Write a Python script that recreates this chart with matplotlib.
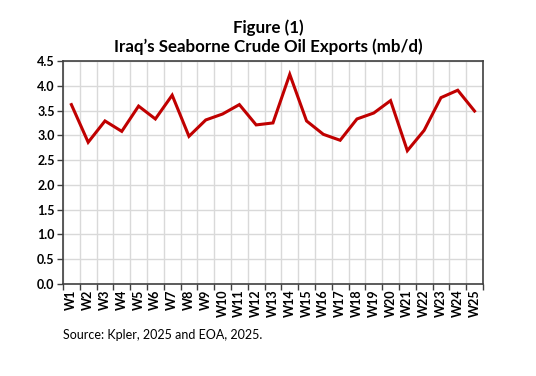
import matplotlib.pyplot as plt
import numpy as np

weeks = ["W%d" % i for i in range(1, 26)]
exports = [3.62, 2.86, 3.29, 3.08, 3.59, 3.33, 3.81, 2.98, 3.31, 3.43,
           3.62, 3.21, 3.25, 4.23, 3.29, 3.02, 2.90, 3.33, 3.45, 3.70,
           2.69, 3.10, 3.76, 3.91, 3.49]
yticks = np.arange(0, 4.51, 0.5)

plt.rcParams['font.family'] = ['Lato', 'DejaVu Sans']

fig = plt.figure(figsize=(5.36, 3.76), dpi=100)
ax = fig.add_axes([0.1175, 0.2447, 0.7835, 0.5931])

x = np.arange(len(weeks))
ax.plot(x, exports, color='#C00000', lw=2.2, solid_joinstyle='miter')

ax.set_xlim(-0.5, len(weeks) - 0.5)
ax.set_ylim(0, 4.5)
ax.set_yticks(yticks)
ax.set_yticklabels(["%.1f" % v for v in yticks], fontsize=9, fontweight='bold')
ax.set_xticks(x)
ax.set_xticklabels(weeks, rotation=90, fontsize=9, fontweight='bold')
ax.set_xticks(np.arange(-0.5, len(weeks)), minor=True)
ax.tick_params(axis='x', which='major', length=0, pad=4)
ax.tick_params(axis='x', which='minor', length=4, width=1, color='#404040')
ax.tick_params(axis='y', length=4, width=1, color='#404040', pad=2)

ax.grid(True, which='minor', axis='x', color='#D9D9D9', lw=1)
ax.grid(True, which='major', axis='y', color='#D9D9D9', lw=1)
ax.set_axisbelow(True)
for s in ax.spines.values():
    s.set_color('#404040')
    s.set_linewidth(1.2)

fig.text(0.5, 0.927, "Figure (1)", ha='center', va='center', fontsize=12.2, fontweight='bold')
fig.text(0.5, 0.877, "Iraq\u2019s Seaborne Crude Oil Exports (mb/d)", ha='center', va='center',
         fontsize=12.2, fontweight='bold')
fig.text(0.117, 0.108, "Source: Kpler, 2025 and EOA, 2025.", ha='left', va='center', fontsize=9)

fig.savefig("out.png", dpi=100)
